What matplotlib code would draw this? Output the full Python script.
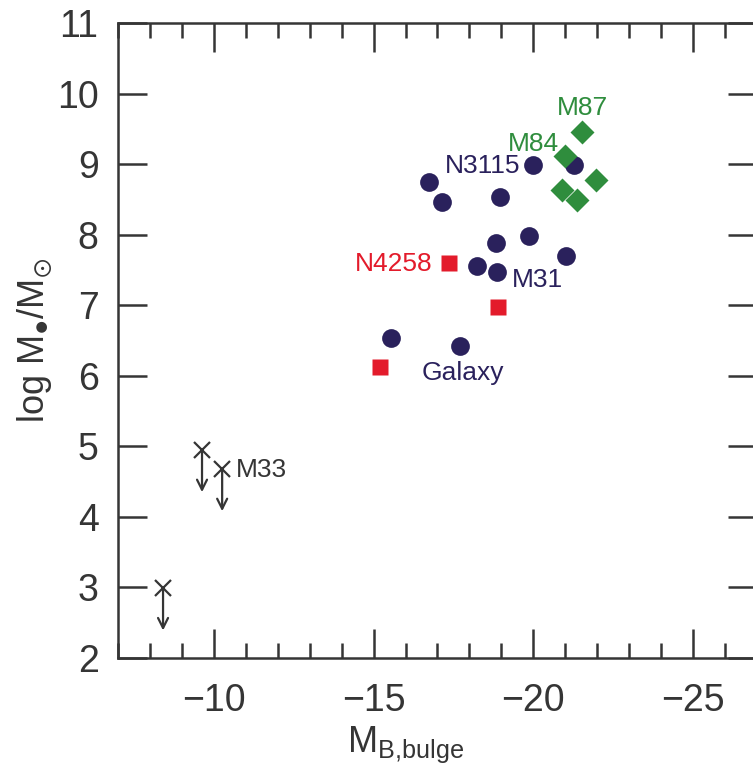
import numpy as np
import matplotlib.pyplot as plt
from matplotlib.ticker import MultipleLocator

plt.rcParams['font.family'] = ['Liberation Sans', 'DejaVu Sans']
plt.rcParams['mathtext.fontset'] = 'custom'
plt.rcParams['mathtext.rm'] = 'Liberation Sans'
plt.rcParams['mathtext.it'] = 'Liberation Sans'
plt.rcParams['mathtext.fallback'] = 'stix'

# bulge magnitude vs black hole mass
circ_mb = [-16.72, -17.13, -18.95, -19.99, -21.28, -18.82, -19.86, -21.03, -18.23, -18.86, -15.55, -17.72]
circ_logm = [8.75, 8.46, 8.54, 8.99, 8.99, 7.88, 7.98, 7.70, 7.56, 7.47, 6.54, 6.42]

sq_mb = [-17.35, -18.88, -15.20]
sq_logm = [7.60, 6.98, 6.13]

dia_mb = [-21.51, -21.00, -21.95, -20.90, -21.37]
dia_logm = [9.46, 9.12, 8.77, 8.63, 8.49]

# upper limits
lim_mb = [-9.63, -10.26, -8.41]
lim_logm = [4.95, 4.68, 2.99]
arrow_len = 0.6

navy = '#2a215c'
red = '#e31b2b'
green = '#2f8d3d'
ink = '#353535'

fig = plt.figure(figsize=(7.53, 7.70), dpi=100)
ax = fig.add_axes([0.1567, 0.1455, 0.8486, 0.8247])

ax.plot(circ_mb, circ_logm, 'o', ms=13.5, color=navy, mec='none', zorder=3)
ax.plot(sq_mb, sq_logm, 's', ms=12, color=red, mec='none', zorder=3)
ax.plot(dia_mb, dia_logm, 'D', ms=12, color=green, mec='none', zorder=4)

ax.plot(lim_mb, lim_logm, 'x', ms=12, mew=1.6, color=ink, zorder=3)
for xm, ym in zip(lim_mb, lim_logm):
    ax.annotate('', xy=(xm, ym - arrow_len), xytext=(xm, ym),
                arrowprops=dict(arrowstyle='->', lw=1.6, color=ink,
                                mutation_scale=18, shrinkA=0, shrinkB=0))

# labels
lab_fs = 19
ax.text(-18.42, 8.97, 'N3115', color=navy, fontsize=lab_fs, ha='center', va='center')
ax.text(-16.85, 7.59, 'N4258', color=red, fontsize=lab_fs, ha='right', va='center')
ax.text(-19.33, 7.35, 'M31', color=navy, fontsize=lab_fs, ha='left', va='center')
ax.text(-17.79, 6.04, 'Galaxy', color=navy, fontsize=lab_fs, ha='center', va='center')
ax.text(-19.99, 9.29, 'M84', color=green, fontsize=lab_fs, ha='center', va='center')
ax.text(-21.53, 9.80, 'M87', color=green, fontsize=lab_fs, ha='center', va='center')
ax.text(-10.68, 4.67, 'M33', color=ink, fontsize=lab_fs, ha='left', va='center')

ax.set_xlim(-7, -27)
ax.set_ylim(2, 11)
ax.xaxis.set_major_locator(MultipleLocator(5))
ax.xaxis.set_minor_locator(MultipleLocator(1))
ax.yaxis.set_major_locator(MultipleLocator(1))

ax.tick_params(which='both', direction='in', top=True, right=True, colors=ink,
               width=1.8, labelsize=27, labelcolor=ink)
ax.tick_params(which='major', length=21)
ax.tick_params(which='minor', length=11)
ax.tick_params(axis='x', pad=18)
ax.tick_params(axis='y', pad=14)
for s in ax.spines.values():
    s.set_linewidth(1.8)
    s.set_color(ink)

ax.set_xlabel(r'$\mathregular{M_{B{,}bulge}}$', fontsize=26, color=ink)
ax.xaxis.set_label_coords(0.45, -0.105)
ax.set_ylabel(r'$\mathregular{log\ M_{●}/M_{⊙}}$', fontsize=26, color=ink)
ax.yaxis.set_label_coords(-0.10, 0.5)

fig.savefig('out.png', dpi=100)
